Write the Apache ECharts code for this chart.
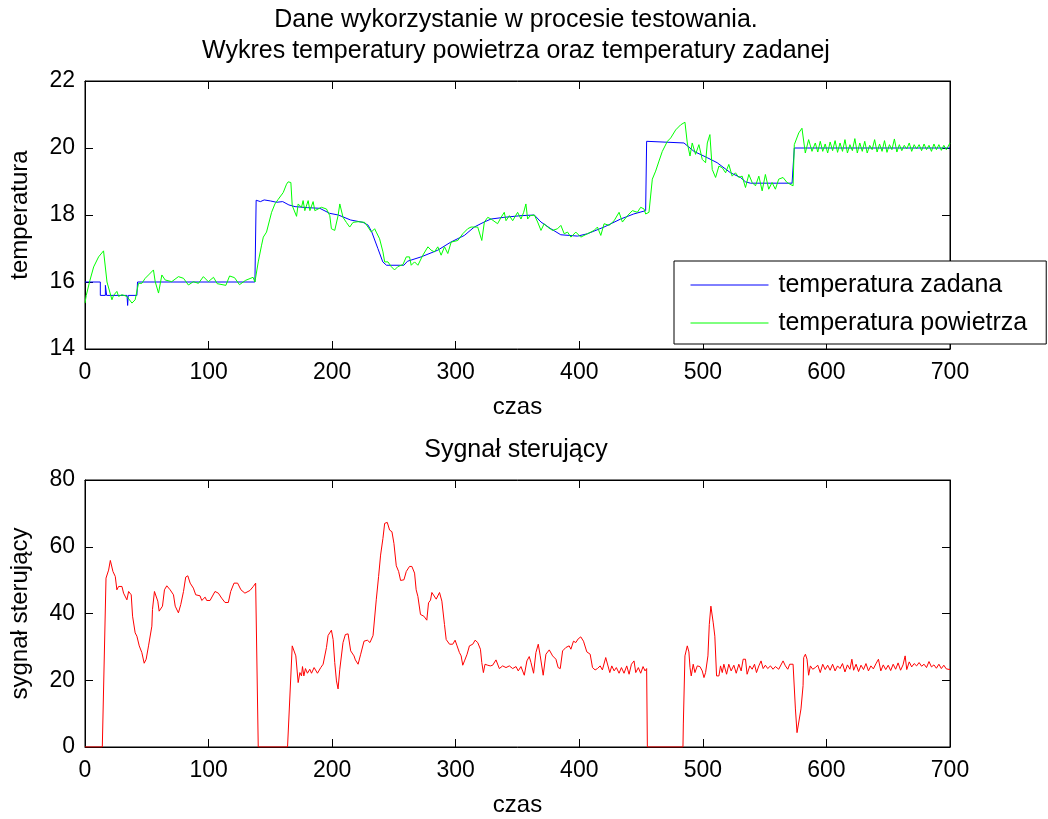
<!DOCTYPE html>
<html>
<head>
<meta charset="utf-8">
<script src="https://cdn.jsdelivr.net/npm/echarts@6/dist/echarts.min.js"></script>
<style>
html,body{margin:0;padding:0;background:#fff;}
#chart{width:1048px;height:819px;}
</style>
</head>
<body>
<div id="chart"></div>
<script>
// ---- data (time, value) ----
const xTicks = [0, 100, 200, 300, 400, 500, 600, 700];
const tempTicks = [14, 16, 18, 20, 22];
const ctrlTicks = [0, 20, 40, 60, 80];

const temperaturaZadana = [[0,16],[12.4,16],[12.4,15.6],[16.5,15.6],[16.5,15.9],[17.5,15.9],[17.5,15.6],[34,15.6],[34.5,15.3],[35,15.6],[42,15.6],[42.5,16.0],[137.5,16.0],[138.5,18.44],[142,18.4],[145,18.45],[150,18.42],[155,18.38],[160,18.4],[165,18.3],[170,18.25],[180,18.22],[190,18.2],[198,18.05],[205,18.0],[215,17.85],[225,17.78],[229,17.7],[232,17.5],[237,17.0],[241,16.6],[244,16.5],[258,16.5],[261,16.62],[272,16.75],[285.5,16.95],[296,17.19],[307,17.39],[315,17.64],[323,17.79],[328.6,17.88],[339,17.93],[352.8,17.98],[363.6,18.0],[369,17.79],[377,17.59],[385,17.41],[398.6,17.37],[406.6,17.44],[420,17.64],[433.5,17.88],[444,18.03],[453.7,18.13],[454.5,20.2],[484.7,20.15],[486,20.12],[492.8,19.9],[503.6,19.71],[511.6,19.56],[522.4,19.26],[530.5,19.12],[534.5,18.99],[538.5,18.95],[572.2,18.95],[574,20.0],[700,20.0]];

const temperaturaPowietrza = [[0,15.37],[1,15.6],[4,16.05],[7,16.45],[11,16.75],[15,16.93],[17.8,16.0],[21.8,15.47],[23.1,15.6],[25.8,15.72],[27.2,15.57],[29.9,15.62],[33.9,15.57],[35.3,15.62],[38,15.37],[40.6,15.47],[43.3,15.96],[46,15.96],[48.7,16.11],[51.4,16.21],[55.4,16.36],[56.8,16.01],[59.5,15.67],[62.2,16.21],[64.9,16.06],[70.2,16.01],[75.6,16.16],[77,16.21],[79.7,16.11],[83.7,15.91],[87.7,16.01],[91.8,15.96],[95.8,16.16],[99.8,16.01],[104,16.14],[107,15.95],[114,15.9],[117,16.18],[121,16.13],[125,15.92],[130,16.05],[136,16.14],[137.5,16.0],[140.2,16.6],[142.9,17.1],[144.3,17.34],[146.9,17.49],[149.6,17.88],[151,18.08],[153.7,18.33],[156.4,18.47],[160.4,18.67],[163.1,18.92],[164.4,18.99],[166.6,18.97],[167.7,18.28],[171.2,17.96],[172.5,18.33],[175.2,18.23],[176.5,18.43],[177.9,18.13],[180.6,18.43],[182,18.13],[184.6,18.4],[186,18.13],[188.7,18.18],[191.3,18.23],[195.4,18.18],[198.1,17.98],[199.4,17.59],[202.1,17.54],[204.8,17.98],[206.2,18.33],[208.8,17.93],[211.5,17.78],[214.2,17.64],[216.9,17.78],[221,17.8],[226.3,17.78],[229,17.64],[231.7,17.49],[234.4,17.59],[235.7,17.49],[238.4,17.29],[241.1,16.9],[242.5,16.6],[245.2,16.6],[247.8,16.46],[250.5,16.36],[253.2,16.46],[257.3,16.52],[260,16.75],[262.6,16.75],[264,16.5],[266.7,16.6],[269.4,16.5],[273.4,16.8],[277.5,17.05],[280.1,16.95],[282.8,16.9],[285.5,17.05],[288.2,16.8],[290.9,17.05],[293.6,16.85],[296.3,17.19],[301.7,17.24],[305.7,17.44],[309.7,17.59],[312.4,17.64],[317.8,17.64],[321.1,17.24],[323.2,17.79],[325.9,17.93],[328.6,17.88],[333.9,17.74],[336.7,17.93],[339.3,18.08],[340.7,17.83],[343.4,17.98],[346.1,17.83],[350.1,18.08],[352.8,17.88],[355,18.08],[356.8,18.33],[358.2,17.88],[360.3,17.98],[363.6,18.0],[366.3,17.79],[369,17.54],[371.6,17.74],[374.3,17.64],[378.4,17.54],[382.4,17.59],[385.1,17.69],[387.8,17.44],[390.5,17.49],[393.2,17.34],[397.2,17.49],[401.2,17.34],[406.6,17.44],[412,17.54],[414.7,17.64],[417.4,17.39],[420.1,17.74],[424.1,17.69],[428.2,17.83],[432.2,18.08],[434.9,17.79],[439,17.98],[443,18.13],[447,18.08],[449.7,18.23],[452.4,18.18],[453.7,18.03],[456.4,18.08],[459.1,19.07],[461.8,19.31],[464.5,19.61],[467.2,19.9],[471.3,20.2],[474,20.3],[478,20.54],[482,20.69],[485.5,20.77],[487.4,20.15],[489.6,19.76],[491.4,20.15],[494.1,19.81],[496.8,20.1],[499.5,19.66],[502.2,19.56],[503.6,20.15],[505.7,20.4],[507.6,19.36],[510.3,19.12],[513,19.46],[515.7,19.41],[518.4,19.26],[521,19.51],[523.7,19.16],[526.4,19.26],[529.1,19.12],[531.8,19.16],[534.5,18.82],[537.2,19.21],[539.9,18.97],[542.6,18.87],[545.3,19.16],[548,18.72],[550.6,19.21],[553.3,18.77],[556,18.97],[558.7,18.77],[561.4,19.07],[564.9,19.12],[568.1,18.97],[573,18.87],[574,20.1],[577.6,20.45],[580.2,20.59],[582.9,19.85],[585.6,20.25],[588.3,19.9],[591,20.15],[593,19.88],[595,20.2],[597,19.9],[599,20.12],[601,19.85],[603,20.18],[605,19.92],[607,20.22],[609,19.87],[611,20.15],[613,19.9],[615,20.25],[617,19.85],[619,20.1],[621,19.92],[623,20.28],[625,19.85],[627,20.15],[629,19.9],[631,20.2],[633,19.85],[635,20.08],[637,19.95],[639,20.25],[641,19.88],[643,20.12],[645,19.9],[647,20.22],[649,19.87],[651,20.1],[653,19.95],[655,20.27],[657,19.88],[659,20.1],[661,19.92],[663,20.08],[665,19.97],[667,20.15],[669,19.9],[671,20.1],[673,19.97],[675,20.1],[677,19.92],[679,20.12],[681,19.95],[683,20.08],[685,19.9],[687,20.12],[689,19.95],[691,20.1],[693,19.93],[695,20.08],[697,19.95],[700,20.15]];

const sygnalSterujacy = [[0,0],[14,0],[17,50.6],[19.1,53],[20.5,55.9],[21.8,55.6],[22.6,52.6],[24.5,51.1],[25.8,47.1],[27.2,48.1],[29.9,48.1],[31.2,46.1],[32.6,46.1],[33.9,44.1],[35.3,46.6],[37.4,45.6],[38.5,39.2],[40.6,34.2],[42,33.2],[43.9,30.3],[46,28.3],[47.9,25.1],[49.5,26.3],[51.4,30.3],[54.1,36.2],[54.6,41.2],[56.2,46.6],[57.6,46.1],[58.9,43.7],[60,40.7],[61.4,40.2],[62.7,42.2],[64.3,47.1],[66.2,48.3],[68.9,47.1],[71.6,45.6],[73,42.2],[75.6,40.2],[77.5,42.7],[79.7,46.6],[81.5,50.9],[83.2,51.3],[85.1,49.1],[87.7,47.6],[89.6,45.6],[93.1,45.3],[94.5,43.9],[97.2,44.9],[98.5,43.9],[101.2,43.9],[105.2,46.6],[107.9,46.1],[110.6,44.6],[113.3,43.3],[116,43.3],[117.9,46.6],[120.6,49.1],[123.5,49.1],[126.2,47.1],[129.4,46.1],[133.5,46.9],[136.2,48.1],[138.1,49.1],[140.2,0],[163.9,0],[167.7,30.3],[169.3,30.1],[170.6,27.3],[172.5,19.3],[173.9,22.3],[175.2,21.3],[176,24.1],[177.1,21.3],[178.4,23.5],[180,22.1],[181.9,23.3],[183.3,22.1],[185.4,23.8],[188.1,22.1],[190.8,23.8],[192.7,24.8],[195.4,29.8],[196.7,33.4],[199.4,35],[200.8,32.2],[202.1,25.3],[203.5,19.8],[204.8,17.4],[206.2,23.3],[208.8,31.3],[210.7,33.7],[212.9,33.9],[215,28.8],[217.7,27.3],[218.8,26.1],[221,24.8],[223.1,27.8],[225.8,31.7],[228.5,32],[230.6,31.3],[233.1,33.4],[235.7,44.1],[237.6,51.1],[239.2,57.5],[241.1,62.5],[242.5,67],[244.6,67.3],[246.5,65],[248.4,64.5],[250,61],[251.9,54.3],[253.8,52.6],[255.4,49.9],[258.1,50.1],[260,52.6],[262.6,54.1],[264.5,54.1],[266.7,52.1],[268,47.1],[269.4,45.1],[271.5,39.7],[274.2,39.2],[276.6,38],[278,43.2],[279.6,44],[280.7,46.3],[282.3,46.3],[284.2,44.3],[286.9,46.3],[288.8,43.7],[290.9,36.7],[292.3,32.2],[295,30.8],[297.6,30.8],[299.5,32],[301.1,30.3],[303,28.3],[304.4,27.3],[305.7,24.5],[307.1,25.8],[309.2,27.8],[311.1,30.3],[313.8,30.8],[315.7,32],[317.8,31.3],[320,29.3],[321.1,25.3],[322.4,22.3],[323.7,24.8],[325.9,24.5],[328,24.3],[329.9,24.5],[332.6,26.1],[335.3,23.5],[338,24.3],[340.7,23.8],[343.4,24.3],[346.1,23.5],[348.8,24.1],[350.6,22.8],[352.8,24.1],[355.5,21.5],[357.6,25.8],[359.5,27.1],[360.9,25.3],[363,22.1],[364.9,28.3],[366.8,30.8],[368.4,27.3],[370.8,21.5],[373,27.8],[375.7,29.1],[378.4,27.3],[381.1,26.3],[382.9,23.8],[384.6,23.5],[386.5,28.8],[389.1,29.8],[391.8,30.3],[393.2,29.3],[395.3,31.7],[397.2,31.3],[399.1,32.4],[401.2,33],[403.4,31.7],[406.1,28.5],[408.8,27.8],[410.7,23.8],[412.8,23.1],[414.7,23.5],[416.9,24.3],[418.7,23.1],[421.4,26.8],[422.8,26.8],[424.7,22.3],[426.3,24.3],[428.2,22.8],[430,23.8],[432.2,22.1],[434.1,23.8],[436.2,22.1],[438.4,24.3],[440.3,21.8],[442.2,24.8],[444.3,25.8],[445.7,22.3],[447.8,23.8],[449.7,22.1],[451.6,24.1],[453.2,22.8],[454.5,23.5],[455.1,0],[483.9,0],[484.2,6.9],[485.5,27.3],[487.4,30.3],[488.7,28.5],[489.6,23.8],[490.6,21.3],[492.2,24.8],[493.6,22.3],[495.5,24.3],[497.6,24.1],[499.5,22.8],[500.9,20.8],[502.2,22.3],[504.1,27.3],[505.2,36.7],[506.5,42.2],[508.4,37.2],[509.7,33.2],[511.1,21.3],[513,21.3],[514.3,24.3],[515.7,22.3],[517,24.8],[519.2,21.8],[521,24.8],[522.9,22.8],[525.1,24.5],[527,22.1],[529.1,24.8],[531,22.8],[532.6,26.3],[534.5,26.3],[535.8,21.8],[538,24.3],[539.9,23.3],[541.8,24.8],[543.4,22.3],[545.3,24.3],[547.1,25.8],[548.8,23.5],[550.6,24.5],[552.5,23.5],[554.7,24.3],[556.8,23.3],[558.7,24.1],[561.4,23.3],[564.9,25.8],[566.8,24.3],[568.7,23.3],[570.3,24.8],[573,24.8],[574.9,11.4],[576.2,4.3],[577.8,4.3],[579.4,11.4],[581.1,18.4],[581.6,26.8],[583,27.8],[584.3,26.3],[585.6,21.5],[587,24.3],[588.9,23.3],[591,23.8],[593,24.5],[595,22.3],[597,24.8],[599,23.2],[601,24.5],[603,23.0],[605,24.8],[607,22.8],[609,24.3],[611,23.5],[613,25.0],[615,22.5],[617,24.6],[619,23.3],[620.6,26.3],[622,23.0],[624,24.8],[626,22.6],[628,24.5],[630,23.2],[632,25.0],[634,22.8],[636,24.3],[638,23.4],[640,24.9],[642.1,26.3],[644,22.8],[646,24.6],[648,23.2],[650,24.5],[652,22.9],[654,24.8],[656,23.3],[658,25.2],[660,23.0],[662,24.6],[663.7,27.3],[665,23.2],[667,25.5],[669,24.0],[671,25.0],[673,24.3],[675,25.3],[677,24.2],[679,24.8],[681,23.8],[683,25.6],[685,24.0],[687,24.6],[689,23.6],[691,24.8],[693,23.5],[695,24.5],[697,23.4],[700,23.2]];

// ---- chart ----
const FONT = 'Liberation Sans, Arial, Helvetica, sans-serif';
const chart = echarts.init(document.getElementById('chart'), null, {renderer: 'canvas'});

function xAx(gridIndex, mirror) {
  return {
    type: 'value', gridIndex: gridIndex,
    min: xTicks[0], max: xTicks[xTicks.length - 1], interval: xTicks[1] - xTicks[0],
    position: mirror ? 'top' : 'bottom',
    name: mirror ? '' : 'czas', nameLocation: 'middle', nameGap: 46,
    nameTextStyle: {fontFamily: FONT, fontSize: 24, color: '#000'},
    axisLine: {show: true, onZero: false, lineStyle: {color: '#000', width: 1}},
    axisTick: {show: true, inside: true, length: 8, lineStyle: {color: '#000'}},
    axisLabel: {show: !mirror, margin: 12, fontFamily: FONT, fontSize: 23, color: '#000'},
    splitLine: {show: false}
  };
}
function yAx(gridIndex, ticks, name, mirror) {
  return {
    type: 'value', gridIndex: gridIndex,
    min: ticks[0], max: ticks[ticks.length - 1], interval: ticks[1] - ticks[0],
    position: mirror ? 'right' : 'left',
    name: mirror ? '' : name, nameLocation: 'middle', nameGap: 53, nameRotate: 90,
    nameTextStyle: {fontFamily: FONT, fontSize: 24, color: '#000'},
    axisLine: {show: true, onZero: false, lineStyle: {color: '#000', width: 1}},
    axisTick: {show: true, inside: true, length: 8, lineStyle: {color: '#000'}},
    axisLabel: {show: !mirror, margin: 10, fontFamily: FONT, fontSize: 23, color: '#000'},
    splitLine: {show: false}
  };
}

chart.setOption({
  animation: false,
  backgroundColor: '#fff',
  title: [
    {
      text: 'Dane wykorzystanie w procesie testowania.\nWykres temperatury powietrza oraz temperatury zadanej',
      left: 516, top: 5, padding: 0, textAlign: 'center',
      textStyle: {fontFamily: FONT, fontSize: 25, fontWeight: 'normal', color: '#000', lineHeight: 31}
    },
    {
      text: 'Sygnał sterujący',
      left: 516, top: 437, padding: 0, textAlign: 'center',
      textStyle: {fontFamily: FONT, fontSize: 25, fontWeight: 'normal', color: '#000', lineHeight: 26}
    }
  ],
  grid: [
    {left: 83, top: 81, width: 867, height: 268, show: true, borderColor: '#000', borderWidth: 1, backgroundColor: '#fff'},
    {left: 83, top: 480, width: 867, height: 267, show: true, borderColor: '#000', borderWidth: 1, backgroundColor: '#fff'}
  ],
  xAxis: [xAx(0, false), xAx(0, true), xAx(1, false), xAx(1, true)],
  yAxis: [yAx(0, tempTicks, 'temperatura', false), yAx(0, tempTicks, '', true),
          yAx(1, ctrlTicks, 'sygnał sterujący', false), yAx(1, ctrlTicks, '', true)],
  legend: {
    orient: 'vertical', left: 674, top: 261,
    padding: [11, 19, 8, 16], itemGap: 12, itemWidth: 78, itemHeight: 26,
    borderColor: '#000', borderWidth: 1, backgroundColor: '#fff',
    itemStyle: {opacity: 0},
    lineStyle: {width: 1},
    textStyle: {fontFamily: FONT, fontSize: 25, lineHeight: 26, color: '#000', padding: [0, 0, 0, 5]},
    data: ['temperatura zadana', 'temperatura powietrza']
  },
  series: [
    {name: 'temperatura zadana', type: 'line', xAxisIndex: 0, yAxisIndex: 0, data: temperaturaZadana,
     symbol: 'none', lineStyle: {color: '#0000ff', width: 1}, itemStyle: {color: '#0000ff'}},
    {name: 'temperatura powietrza', type: 'line', xAxisIndex: 0, yAxisIndex: 0, data: temperaturaPowietrza,
     symbol: 'none', lineStyle: {color: '#00ff00', width: 1}, itemStyle: {color: '#00ff00'}},
    {name: 'sygnał sterujący', type: 'line', xAxisIndex: 2, yAxisIndex: 2, data: sygnalSterujacy,
     symbol: 'none', lineStyle: {color: '#ff0000', width: 1}, itemStyle: {color: '#ff0000'}}
  ]
});
</script>
</body>
</html>
